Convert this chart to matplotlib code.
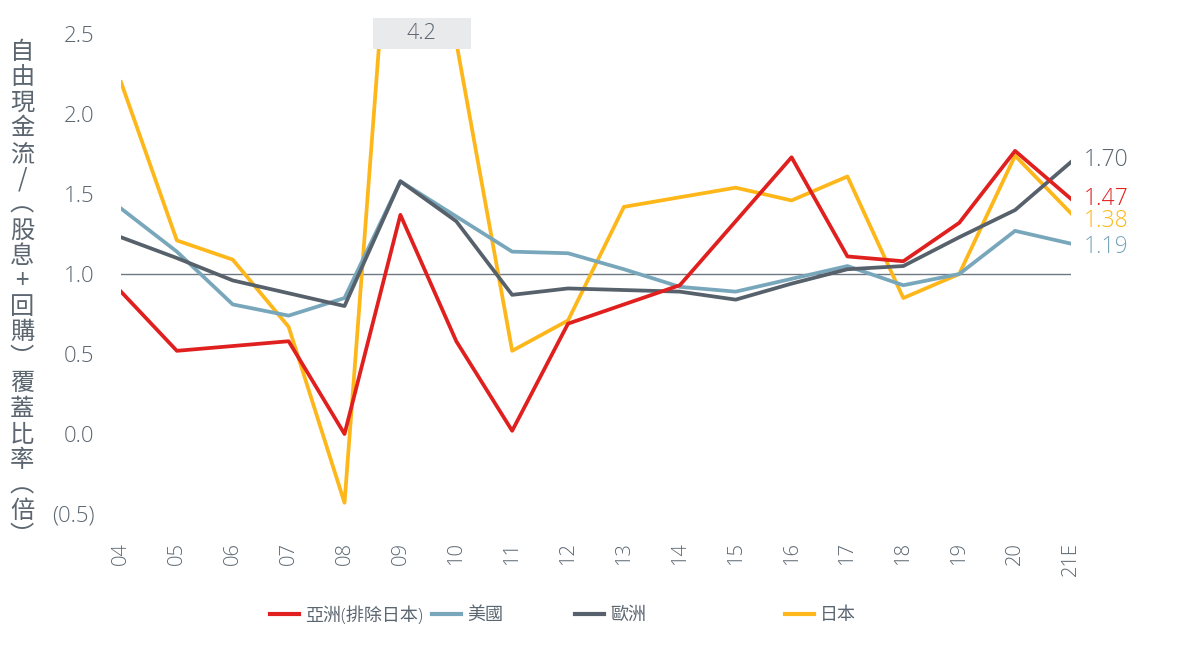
import matplotlib
matplotlib.use("Agg")
import matplotlib.pyplot as plt
from matplotlib.lines import Line2D
from matplotlib.patches import Rectangle

plt.rcParams['font.family'] = ['Open Sans', 'Noto Sans CJK TC', 'DejaVu Sans']
plt.rcParams['font.weight'] = 'light'

years = ["04", "05", "06", "07", "08", "09", "10", "11", "12", "13",
         "14", "15", "16", "17", "18", "19", "20", "21E"]

asia_ex_japan = [0.89, 0.52, 0.55, 0.58, 0.00, 1.37, 0.58, 0.02, 0.69, 0.81,
                 0.93, 1.33, 1.73, 1.11, 1.08, 1.32, 1.77, 1.47]
usa = [1.41, 1.14, 0.81, 0.74, 0.85, 1.58, 1.36, 1.14, 1.13, 1.03,
       0.92, 0.89, 0.97, 1.05, 0.93, 1.00, 1.27, 1.19]
europe = [1.23, 1.10, 0.96, 0.88, 0.80, 1.58, 1.33, 0.87, 0.91, 0.90,
          0.89, 0.84, 0.94, 1.03, 1.05, 1.23, 1.40, 1.70]
japan = [2.20, 1.21, 1.09, 0.67, -0.43, 4.20, 2.45, 0.52, 0.71, 1.42,
         1.48, 1.54, 1.46, 1.61, 0.85, 1.00, 1.74, 1.38]

names = ["亞洲(排除日本)", "美國", "歐洲", "日本"]
colors = ["#E0201F", "#78A7BB", "#56616B", "#FDB71A"]
series = [asia_ex_japan, usa, europe, japan]

yticks = [-0.5, 0.0, 0.5, 1.0, 1.5, 2.0, 2.5]
ytick_labels = ["(0.5)", "0.0", "0.5", "1.0", "1.5", "2.0", "2.5"]
ylabel = "自由現金流/︵股息+回購︶覆蓋比率︵倍︶"

text_color = "#5B6670"

fig = plt.figure(figsize=(11.77, 6.47), dpi=100)
ax = fig.add_axes([0.1028, 0.2056, 0.8071, 0.7664])

x = list(range(len(years)))
ax.axhline(1.0, color="#6E7882", lw=1.0, zorder=1)

# yellow first so the others sit on top
for i in [3, 1, 2, 0]:
    ax.plot(x, series[i], color=colors[i], lw=2.7, zorder=2)

ax.set_xlim(0, len(years) - 1)
ax.set_ylim(-0.5, 2.6)
ax.set_yticks(yticks)
ax.set_yticklabels(ytick_labels)
ax.set_xticks(x)
ax.set_xticklabels(years, rotation=90)
ax.tick_params(axis="y", length=0, pad=19, labelsize=16, labelcolor=text_color)
ax.tick_params(axis="x", length=0, pad=20, labelsize=14.5, labelcolor=text_color)
for s in ax.spines.values():
    s.set_visible(False)

# off-scale box for Japan 09
ax.add_patch(Rectangle((4.51, 2.41), 1.75, 0.19, facecolor="#E9EAEC",
                       edgecolor="none", zorder=5, clip_on=False))
ax.text(5.385, 2.505, "4.2", ha="center", va="center", fontsize=15.5,
        color=text_color, zorder=6)

# end labels, nudged apart
nudges = [0.0, -0.02, 0.01, -0.05]
last = len(years) - 1
for i in range(4):
    lab_color = text_color if i == 2 else colors[i]
    ax.annotate(f"{series[i][-1]:.2f}", (last, series[i][-1] + nudges[i]),
                xytext=(9, 0), textcoords="offset points", ha="left", va="center",
                fontsize=16.5, color=lab_color, annotation_clip=False)

# vertical y label
fig.text(0.0187, 0.94, "\n".join(ylabel), ha="center", va="top", fontsize=17.5,
         color=text_color, linespacing=0.975, family=['Noto Sans CJK TC', 'DejaVu Sans'])

# legend entries
leg_x = [0.2294, 0.367, 0.4885, 0.667]
for i in range(4):
    h = Line2D([], [], color=colors[i], lw=3)
    lg = fig.legend([h], [names[i]], loc="center left", bbox_to_anchor=(leg_x[i], 0.049),
                    frameon=False, handlelength=1.6, handletextpad=0.35, fontsize=13,
                    borderaxespad=0, borderpad=0)
    for t in lg.get_texts():
        t.set_color(text_color)

fig.savefig("out.png", dpi=100)
